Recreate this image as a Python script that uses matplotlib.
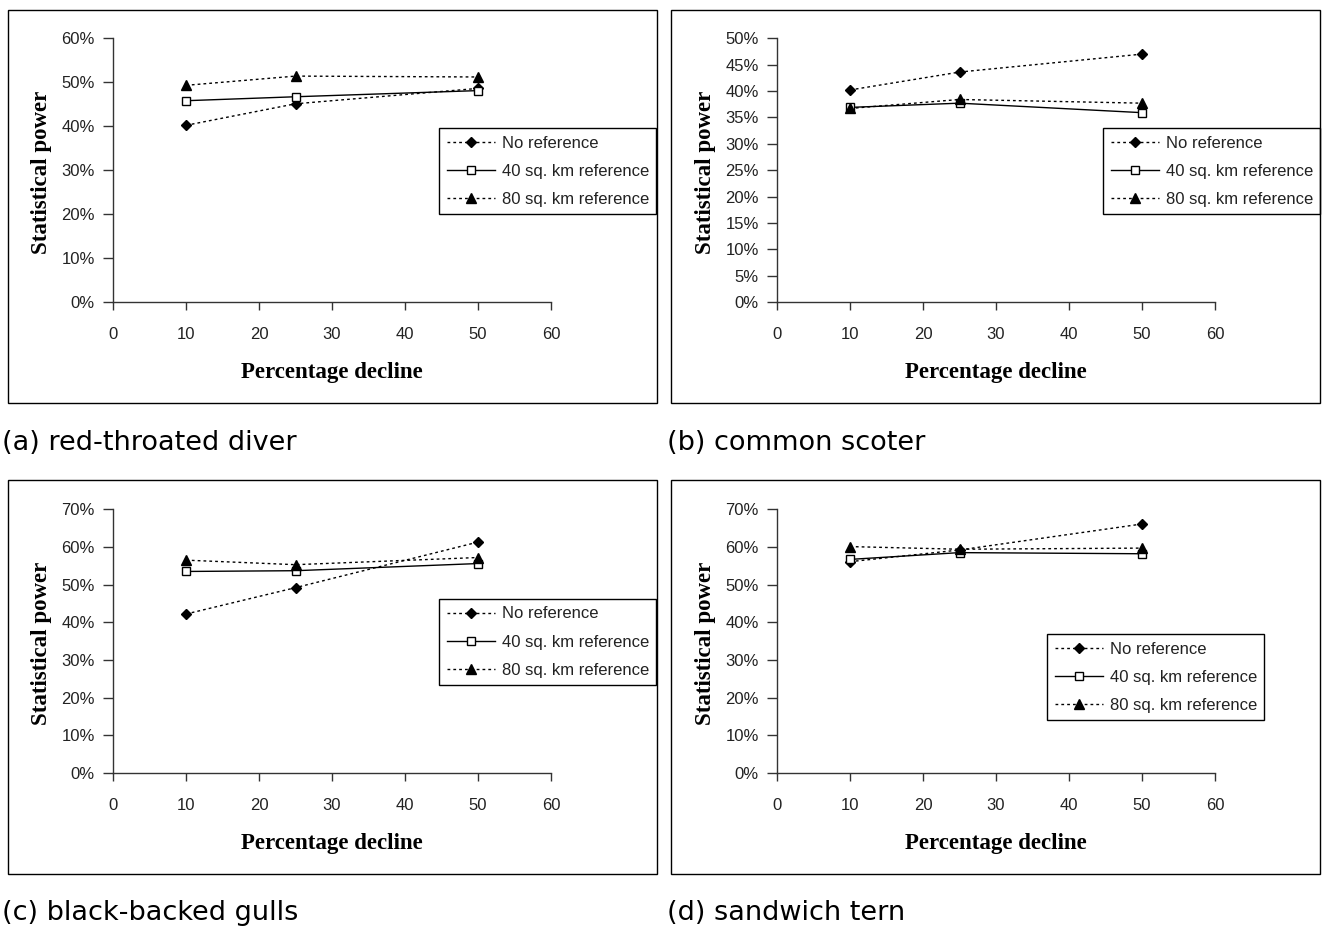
import matplotlib
matplotlib.use("Agg")
import matplotlib.pyplot as plt
from matplotlib.patches import Rectangle
from matplotlib.ticker import FuncFormatter, MultipleLocator

# ---------------- data ----------------
decline = [10, 25, 50]
series_labels = ["No reference", "40 sq. km reference", "80 sq. km reference"]

diver_none = [40.2, 45.1, 48.6]
diver_40 = [45.8, 46.7, 48.1]
diver_80 = [49.3, 51.4, 51.2]

scoter_none = [40.2, 43.6, 47.0]
scoter_40 = [36.9, 37.7, 35.9]
scoter_80 = [36.7, 38.4, 37.7]

gulls_none = [42.2, 49.2, 61.3]
gulls_40 = [53.5, 53.7, 55.6]
gulls_80 = [56.5, 55.3, 57.2]

tern_none = [56.1, 59.2, 66.1]
tern_40 = [56.7, 58.5, 58.2]
tern_80 = [60.1, 59.4, 59.7]

captions = ["(a) red-throated diver", "(b) common scoter",
            "(c) black-backed gulls", "(d) sandwich tern"]
y_max = [60, 50, 70, 70]
y_step = [10, 5, 10, 10]

# ---------------- layout ----------------
W, H = 1326, 930
fig = plt.figure(figsize=(W / 100, H / 100), dpi=100)
fig.patch.set_facecolor("white")


def rect(x0, y0, x1, y1):
    return [x0 / W, 1 - y1 / H, (x1 - x0) / W, (y1 - y0) / H]


boxes = [(8, 10, 657, 403), (671, 10, 1320, 403),
         (8, 480, 657, 874), (671, 480, 1320, 874)]
axes_px = [(113, 38.3, 551, 302), (777, 38.3, 1215, 302),
           (113, 509.3, 551, 773), (777, 509.3, 1215, 773)]
legend_px = [(439, 128), (1103, 128), (439, 599), (1047, 634)]
caption_px = [(2, 443), (667, 443), (2, 913), (667, 913)]

data = [(diver_none, diver_40, diver_80),
        (scoter_none, scoter_40, scoter_80),
        (gulls_none, gulls_40, gulls_80),
        (tern_none, tern_40, tern_80)]

tick_color = "#222222"
sans = "Liberation Sans"
dotted = (0, (2, 2.2))

for i in range(4):
    bx = boxes[i]
    fig.patches.append(Rectangle((bx[0] / W, 1 - bx[3] / H),
                                 (bx[2] - bx[0]) / W, (bx[3] - bx[1]) / H,
                                 transform=fig.transFigure, fill=False,
                                 edgecolor="black", linewidth=1.0))
    ax = fig.add_axes(rect(*axes_px[i]))
    none_v, v40, v80 = data[i]
    ax.plot(decline, none_v, linestyle=dotted, color="black", linewidth=1.0,
            marker="D", markersize=5, markerfacecolor="black",
            markeredgecolor="black", label=series_labels[0], clip_on=False)
    ax.plot(decline, v40, linestyle="-", color="black", linewidth=1.0,
            marker="s", markersize=6, markerfacecolor="white",
            markeredgecolor="black", label=series_labels[1], clip_on=False)
    ax.plot(decline, v80, linestyle=dotted, color="black", linewidth=1.0,
            marker="^", markersize=7, markerfacecolor="black",
            markeredgecolor="black", label=series_labels[2], clip_on=False)

    ax.set_xlim(0, 60)
    ax.set_ylim(0, y_max[i])
    ax.xaxis.set_major_locator(MultipleLocator(10))
    ax.yaxis.set_major_locator(MultipleLocator(y_step[i]))
    ax.yaxis.set_major_formatter(FuncFormatter(lambda v, p: f"{v:.0f}%"))
    for s in ["top", "right"]:
        ax.spines[s].set_visible(False)
    for s in ["left", "bottom"]:
        ax.spines[s].set_color("#333333")
        ax.spines[s].set_linewidth(1.0)
    ax.tick_params(axis="x", direction="out", length=6, width=1,
                   color="#333333", pad=12, labelsize=12, labelcolor=tick_color)
    ax.tick_params(axis="y", direction="out", length=7, width=1,
                   color="#333333", pad=6, labelsize=12, labelcolor=tick_color)
    for lab in ax.get_xticklabels() + ax.get_yticklabels():
        lab.set_family(sans)
    ax.set_facecolor("white")

    ax.set_xlabel("Percentage decline", family="Liberation Serif",
                  fontweight="bold", fontsize=16.5)
    ax.set_ylabel("Statistical power", family="Liberation Serif",
                  fontweight="bold", fontsize=16.5)
    ax.xaxis.set_label_coords(0.5, (302 - 362) / 263.7)
    ax.yaxis.set_label_coords((52 - 113) / 438, 0.49)

    lx, ly = legend_px[i]
    leg = ax.legend(loc="upper left", bbox_to_anchor=(lx / W, 1 - ly / H),
                    bbox_transform=fig.transFigure, borderaxespad=0,
                    prop={"family": sans, "size": 12}, frameon=True,
                    fancybox=False, edgecolor="black", framealpha=1,
                    handlelength=2.9, handletextpad=0.4, labelspacing=0.78,
                    borderpad=0.45, labelcolor=tick_color)
    leg.get_frame().set_linewidth(1.0)

    cx, cy = caption_px[i]
    fig.text(cx / W, 1 - cy / H, captions[i], ha="left", va="center",
             fontsize=19.5, family="DejaVu Sans", color="black")

fig.savefig("out.png", dpi=100, facecolor="white")
